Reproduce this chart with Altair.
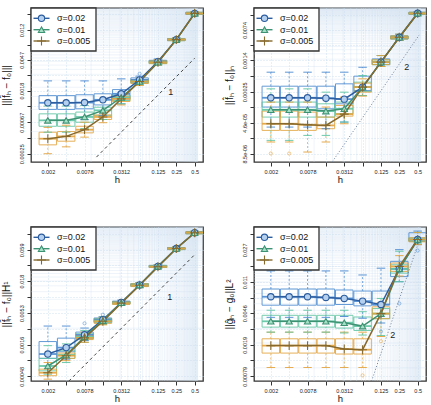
import altair as alt
import pandas as pd

# mesh sizes h = 2^-9 ... 2^-1
H = [0.001953125, 0.00390625, 0.0078125, 0.015625, 0.03125, 0.0625, 0.125, 0.25, 0.5]
SIGMAS = ["σ=0.02", "σ=0.01", "σ=0.005"]

BOX_COL = {"σ=0.02": "#4a8ad0", "σ=0.01": "#5fc4a2", "σ=0.005": "#e3a23c"}
LINE_COL = {"σ=0.02": "#2c5d9f", "σ=0.01": "#3e9274", "σ=0.005": "#86692d"}
FILL_COL = {"σ=0.02": "#b4d0ee", "σ=0.01": "#a6e0c6", "σ=0.005": "#86692d"}
SHAPE = {"σ=0.02": "circle", "σ=0.01": "triangle-up", "σ=0.005": "M-1,0L1,0M0,-1L0,1"}
PSIZE = {"σ=0.02": 40, "σ=0.01": 40, "σ=0.005": 80}

# ---- panel 1: |||f_h - f0|||
P1_MED = {"σ=0.02": [0.00123, 0.00123, 0.00124, 0.00135, 0.00163, 0.00252, 0.00446, 0.00887, 0.02018],
          "σ=0.01": [0.00071, 0.00071, 0.00079, 0.00097, 0.00145, 0.00239, 0.00437, 0.00887, 0.02018],
          "σ=0.005": [0.00040, 0.00043, 0.00053, 0.00079, 0.00139, 0.00239, 0.00437, 0.00887, 0.02018]}
P1_Q3 = {"σ=0.02": [0.00154, 0.00154, 0.00158, 0.00163, 0.00186, 0.00268, 0.00465, 0.00915, 0.02083],
         "σ=0.01": [0.00087, 0.00087, 0.00092, 0.00107, 0.00156, 0.00252, 0.00456, 0.00915, 0.02083],
         "σ=0.005": [0.00049, 0.00050, 0.00059, 0.00084, 0.00150, 0.00252, 0.00456, 0.00915, 0.02083]}
P1_Q1 = {"σ=0.02": [0.00100, 0.00100, 0.00102, 0.00115, 0.00139, 0.00234, 0.00424, 0.00860, 0.01957],
         "σ=0.01": [0.00059, 0.00059, 0.00067, 0.00083, 0.00132, 0.00227, 0.00419, 0.00860, 0.01957],
         "σ=0.005": [0.00033, 0.00037, 0.00048, 0.00073, 0.00128, 0.00225, 0.00419, 0.00860, 0.01957]}
P1_HI = {"σ=0.02": [0.00244, 0.00244, 0.00244, 0.00244, 0.00260, 0.00283, 0.00485, 0.00935, 0.02125],
         "σ=0.01": [0.00111, 0.00111, 0.00113, 0.00132, 0.00171, 0.00265, 0.00475, 0.00935, 0.02125],
         "σ=0.005": [0.00057, 0.00061, 0.00067, 0.00092, 0.00163, 0.00265, 0.00475, 0.00935, 0.02125]}
P1_LO = {"σ=0.02": [0.00071, 0.00071, 0.00073, 0.00083, 0.00119, 0.00229, 0.00411, 0.00842, 0.01917],
         "σ=0.01": [0.00049, 0.00049, 0.00055, 0.00073, 0.00119, 0.00216, 0.00402, 0.00842, 0.01917],
         "σ=0.005": [0.00025, 0.00031, 0.00042, 0.00066, 0.00115, 0.00211, 0.00402, 0.00842, 0.01917]}
P1_OUT = [("σ=0.02", 0.0625, 0.00304)]

# ---- panel 2: ||f_h - f0||_n
P2_MED = {"σ=0.02": [0.000181, 0.000181, 0.000181, 0.000177, 0.000168, 0.000324, 0.00127, 0.00496, 0.01837],
          "σ=0.01": [0.0000939, 0.0000939, 0.0000939, 0.0000873, 0.0000991, 0.000324, 0.00127, 0.00496, 0.01837],
          "σ=0.005": [0.0000437, 0.0000437, 0.0000414, 0.0000399, 0.0000741, 0.000324, 0.00127, 0.00496, 0.01837]}
P2_Q3 = {"σ=0.02": [0.000341, 0.000341, 0.000341, 0.000341, 0.000388, 0.000590, 0.00152, 0.00533, 0.0194],
         "σ=0.01": [0.000143, 0.000143, 0.000143, 0.000130, 0.000143, 0.000425, 0.00144, 0.00533, 0.0194],
         "σ=0.005": [0.0000873, 0.0000873, 0.0000826, 0.0000629, 0.000119, 0.000402, 0.00144, 0.00533, 0.0194]}
P2_Q1 = {"σ=0.02": [0.000109, 0.000109, 0.000109, 0.0000991, 0.000130, 0.000270, 0.00111, 0.00452, 0.0174],
         "σ=0.01": [0.0000629, 0.0000629, 0.0000629, 0.0000629, 0.0000754, 0.000255, 0.00111, 0.00452, 0.0174],
         "σ=0.005": [0.0000304, 0.0000304, 0.0000304, 0.0000333, 0.0000664, 0.000246, 0.00111, 0.00452, 0.0174]}
P2_HI = {"σ=0.02": [0.000734, 0.000734, 0.000734, 0.000734, 0.000734, 0.00096, 0.00182, 0.00584, 0.0201],
         "σ=0.01": [0.000295, 0.000295, 0.000295, 0.000246, 0.000246, 0.000611, 0.00182, 0.00584, 0.0201],
         "σ=0.005": [0.000143, 0.000143, 0.000143, 0.000109, 0.000187, 0.000510, 0.00182, 0.00584, 0.0201]}
P2_LO = {"σ=0.02": [0.0000364, 0.0000364, 0.0000364, 0.0000333, 0.0000479, 0.000205, 0.00100, 0.00421, 0.01677],
         "σ=0.01": [0.0000176, 0.0000176, 0.0000231, 0.0000231, 0.0000479, 0.000205, 0.00100, 0.00421, 0.01677],
         "σ=0.005": [0.0000161, 0.0000161, 0.0000093, 0.0000161, 0.0000437, 0.000198, 0.00100, 0.00421, 0.01677]}
P2_OUT = [("σ=0.005", 0.001953125, 0.0000086), ("σ=0.005", 0.00390625, 0.0000086)]

# ---- panel 3: ||f_h - f0||_H1
P3_MED = {"σ=0.02": [0.00112, 0.00143, 0.00233, 0.00414, 0.00797, 0.01554, 0.0315, 0.0621, 0.1135],
          "σ=0.01": [0.00071, 0.00108, 0.00215, 0.00399, 0.00787, 0.01554, 0.0315, 0.0621, 0.1135],
          "σ=0.005": [0.00055, 0.00105, 0.00207, 0.00389, 0.00777, 0.01533, 0.0311, 0.0621, 0.1135]}
P3_Q3 = {"σ=0.02": [0.00180, 0.00205, 0.00258, 0.00442, 0.00839, 0.01637, 0.0327, 0.0645, 0.1179],
         "σ=0.01": [0.00095, 0.00127, 0.00242, 0.00431, 0.0083, 0.0163, 0.0327, 0.0645, 0.1179],
         "σ=0.005": [0.00063, 0.00116, 0.00227, 0.00420, 0.0082, 0.0162, 0.0325, 0.0645, 0.1179]}
P3_Q1 = {"σ=0.02": [0.00095, 0.00122, 0.00205, 0.00379, 0.00757, 0.01475, 0.0303, 0.0598, 0.1092],
         "σ=0.01": [0.00059, 0.00095, 0.00199, 0.00369, 0.0075, 0.0148, 0.0303, 0.0598, 0.1092],
         "σ=0.005": [0.00049, 0.00095, 0.00194, 0.00360, 0.0074, 0.0146, 0.0302, 0.0598, 0.1092]}
P3_HI = {"σ=0.02": [0.00325, 0.00325, 0.00301, 0.00465, 0.0087, 0.0170, 0.0335, 0.066, 0.120],
         "σ=0.01": [0.00154, 0.00165, 0.00275, 0.0046, 0.0086, 0.0169, 0.0335, 0.066, 0.120],
         "σ=0.005": [0.00081, 0.00136, 0.00258, 0.0045, 0.0086, 0.0168, 0.0334, 0.066, 0.120]}
P3_LO = {"σ=0.02": [0.00071, 0.00092, 0.00187, 0.00355, 0.0073, 0.0142, 0.0296, 0.058, 0.107],
         "σ=0.01": [0.00052, 0.00081, 0.00175, 0.00345, 0.0072, 0.0141, 0.0296, 0.058, 0.107],
         "σ=0.005": [0.00043, 0.00087, 0.00175, 0.00340, 0.0072, 0.0140, 0.0295, 0.058, 0.107]}
P3_OUT = [("σ=0.02", 0.0078125, 0.00360), ("σ=0.02", 0.015625, 0.00500)]

# ---- panel 4: ||g_h - g0||_L2
P4_MED = {"σ=0.02": [0.00729, 0.00729, 0.00729, 0.00715, 0.00695, 0.00645, 0.00587, 0.0159, 0.0361],
          "σ=0.01": [0.00367, 0.00367, 0.00367, 0.00367, 0.00353, 0.00321, 0.00455, 0.0159, 0.0361],
          "σ=0.005": [0.00186, 0.00186, 0.00186, 0.00186, 0.00169, 0.00166, 0.00455, 0.0170, 0.0361]}
P4_Q3 = {"σ=0.02": [0.00905, 0.00905, 0.00905, 0.00905, 0.00880, 0.00855, 0.00855, 0.0196, 0.0436],
         "σ=0.01": [0.00434, 0.00434, 0.00434, 0.00434, 0.00434, 0.00414, 0.00524, 0.0178, 0.0379],
         "σ=0.005": [0.00225, 0.00225, 0.00225, 0.00225, 0.00225, 0.00225, 0.00550, 0.0187, 0.0379]}
P4_Q1 = {"σ=0.02": [0.00576, 0.00576, 0.00576, 0.00576, 0.00587, 0.00565, 0.00580, 0.0128, 0.0344],
         "σ=0.01": [0.00312, 0.00312, 0.00312, 0.00312, 0.00304, 0.00284, 0.00395, 0.0141, 0.0344],
         "σ=0.005": [0.00151, 0.00151, 0.00151, 0.00151, 0.00147, 0.00147, 0.00395, 0.0148, 0.0338]}
P4_HI = {"σ=0.02": [0.0150, 0.0150, 0.0150, 0.0150, 0.0150, 0.0134, 0.0162, 0.0272, 0.0457],
         "σ=0.01": [0.00500, 0.00500, 0.00500, 0.00500, 0.00500, 0.00480, 0.00695, 0.0260, 0.0440],
         "σ=0.005": [0.00271, 0.00271, 0.00271, 0.00271, 0.00271, 0.00271, 0.00620, 0.0230, 0.0440]}
P4_LO = {"σ=0.02": [0.00410, 0.00410, 0.00410, 0.00410, 0.00420, 0.00400, 0.00350, 0.0111, 0.0313],
         "σ=0.01": [0.00271, 0.00271, 0.00271, 0.00271, 0.00265, 0.00250, 0.00247, 0.0111, 0.0320],
         "σ=0.005": [0.00101, 0.00101, 0.00101, 0.00101, 0.00101, 0.00101, 0.00240, 0.0130, 0.0313]}
P4_OUT = [("σ=0.02", 0.125, 0.00276), ("σ=0.02", 0.25, 0.00604), ("σ=0.02", 0.5, 0.0265),
          ("σ=0.005", 0.0625, 0.00081), ("σ=0.005", 0.125, 0.00210)]

# tick labels
X_LABELS = [(0.001953125, "0.002"), (0.0078125, "0.0078"), (0.03125, "0.0312"),
            (0.125, "0.125"), (0.25, "0.25"), (0.5, "0.5")]
P1_YLAB = [(0.00025, "0.00025"), (0.00067, "0.00067"), (0.0018, "0.0018"), (0.0047, "0.0047"), (0.012, "0.012")]
P1_YMIN = [0.00041, 0.0011, 0.0029, 0.0075, 0.0195]
P2_YLAB = [(8.5e-06, "8.5e-06"), (4.6e-05, "4.6e-05"), (0.00025, "0.00025"), (0.0014, "0.0014"), (0.0074, "0.0074")]
P2_YMIN = [1.98e-05, 1.07e-04, 5.9e-04, 3.2e-03, 0.0172]
P3_YLAB = [(0.00048, "0.00048"), (0.0016, "0.0016"), (0.0053, "0.0053"), (0.018, "0.018"), (0.059, "0.059")]
P3_YMIN = [0.00088, 0.0029, 0.0097, 0.033, 0.108]
P4_YLAB = [(0.00079, "0.00079"), (0.0019, "0.0019"), (0.0046, "0.0046"), (0.011, "0.011"), (0.027, "0.027")]
P4_YMIN = [0.00123, 0.00295, 0.0071, 0.0171, 0.042]

# reference slopes: (h, value) end points and label positions
P1_REF = [(0.01226, 0.000225), (0.5, 0.00496)]
P1_REF_LABEL = (0.203, 0.00171, "1")
P2_REF = [(0.0200, 0.0000055), (0.53, 0.00563)]
P2_REF_LABEL = (0.33, 0.000997, "2")
P3_REF = [(0.00432, 0.00040), (0.5, 0.0492)]
P3_REF_LABEL = (0.196, 0.00993, "1")
P4_REF = [(0.0877, 0.00069), (0.53, 0.0351)]
P4_REF_LABEL = (0.196, 0.00252, "2")

XDOM = [0.00125, 0.567]
FONT = "Liberation Sans"
GRID = "#cfe0f2"
W, HGT = 172, 154


def label_expr(pairs):
    expr = "''"
    for v, t in reversed(pairs):
        expr = f"abs(datum.value - {v}) < {v * 1e-3} ? '{t}' : ({expr})"
    return expr


def frame(med, q1, q3, lo, hi):
    rows = []
    for s in SIGMAS:
        for i, h in enumerate(H):
            rows.append(dict(series=s, h=h, med=med[s][i], q1=q1[s][i], q3=q3[s][i],
                             lo=lo[s][i], hi=hi[s][i], box=BOX_COL[s], line=LINE_COL[s],
                             fill=FILL_COL[s], shape=SHAPE[s], psize=PSIZE[s]))
    return pd.DataFrame(rows)


def legend_layers():
    layers = [alt.Chart(pd.DataFrame({"k": [0]})).mark_rect(
        fill="white", stroke="#333333", strokeWidth=1.3).encode(
        x=alt.value(0), x2=alt.value(65), y=alt.value(0), y2=alt.value(43))]
    for s, yy in zip(SIGMAS, [10.3, 21.7, 33.0]):
        d = pd.DataFrame({"label": [s]})
        layers.append(alt.Chart(d).mark_rule(color=LINE_COL[s], strokeWidth=1.4).encode(
            x=alt.value(2.5), x2=alt.value(18.5), y=alt.value(yy)))
        layers.append(alt.Chart(d).mark_point(
            shape=SHAPE[s], size=PSIZE[s], filled=True, fill=FILL_COL[s], stroke=LINE_COL[s],
            strokeWidth=1.1, opacity=1).encode(x=alt.value(10.5), y=alt.value(yy)))
        layers.append(alt.Chart(d).mark_text(
            align="left", baseline="middle", fontSize=9, color="#111111", font=FONT).encode(
            x=alt.value(26), y=alt.value(yy), text="label:N"))
    return layers


def panel(df, outs, ydom, ylab, ymin, ytitle, ystep, ref, ref_label, dash, ref_color):
    xs = alt.Scale(type="log", domain=XDOM, nice=False)
    ys = alt.Scale(type="log", domain=ydom, nice=False)
    xaxis = alt.Axis(values=H, labelExpr=label_expr(X_LABELS), title="h", labelFontSize=5.5,
                     titleFontSize=9.5, titleFontWeight="normal", tickSize=4, labelPadding=3,
                     titlePadding=0, grid=True, gridColor="#c4d8ec", gridDash=[1, 2], gridWidth=0.8,
                     domain=False, tickColor="#333333", labelColor="#222222", labelAngle=0,
                     labelFlush=False, labelOverlap=False, titleColor="#111111")
    yaxis = alt.Axis(values=sorted([v for v, _ in ylab] + ymin), labelExpr=label_expr(ylab),
                     title=ytitle, labelAngle=270, labelAlign="center", labelBaseline="bottom",
                     labelFontSize=5.5, tickSize=4, labelPadding=3, titlePadding=8, titleFontSize=10,
                     titleFontWeight="normal", grid=True, gridColor="#c4d8ec", gridDash=[1, 2],
                     gridWidth=0.8, domain=False, tickColor="#333333", labelColor="#222222",
                     labelFlush=False, labelOverlap=False, titleColor="#111111")

    def X(field="h:Q"):
        return alt.X(field, scale=xs, axis=xaxis)

    def Y(field):
        return alt.Y(field, scale=ys, axis=yaxis)

    # light background grid at linear steps
    xg = pd.DataFrame({"g": [round(0.01 * k, 2) for k in range(1, 57)]})
    top = ydom[1]
    yg = pd.DataFrame({"g": [ystep * k for k in range(1, int(top / ystep) + 1)]})
    hgrid = alt.Chart(yg).mark_rule(color=GRID, strokeWidth=0.5, opacity=0.7).encode(y=Y("g:Q"))
    vgrid = alt.Chart(xg).mark_rule(color=GRID, strokeWidth=0.5, opacity=0.7).encode(x=X("g:Q"))

    refdf = pd.DataFrame({"h": [p[0] for p in ref], "v": [p[1] for p in ref]})
    refline = alt.Chart(refdf).mark_line(clip=True, strokeDash=dash, color=ref_color,
                                         strokeWidth=1).encode(x=X(), y=Y("v:Q"))
    reftxt = alt.Chart(pd.DataFrame({"h": [ref_label[0]], "v": [ref_label[1]], "t": [ref_label[2]]})
                       ).mark_text(fontSize=9, color="#222222", font=FONT).encode(
        x=X(), y=Y("v:Q"), text="t:N")

    base = alt.Chart(df)
    C = alt.Color("box:N", scale=None)
    whi = base.mark_rule(strokeDash=[2, 2], strokeWidth=0.8, opacity=0.9).encode(
        x=X(), y=Y("q3:Q"), y2="hi:Q", color=C)
    wlo = base.mark_rule(strokeDash=[2, 2], strokeWidth=0.8, opacity=0.9).encode(
        x=X(), y=Y("lo:Q"), y2="q1:Q", color=C)
    chi = base.mark_tick(orient="horizontal", size=8.5, thickness=1, opacity=0.9, clip=True).encode(
        x=X(), y=Y("hi:Q"), color=C)
    clo = base.mark_tick(orient="horizontal", size=8.5, thickness=1, opacity=0.9, clip=True).encode(
        x=X(), y=Y("lo:Q"), color=C)
    box = base.mark_bar(filled=False, width=17.5, strokeWidth=1, opacity=0.85, clip=True).encode(
        x=X(), y=Y("q1:Q"), y2="q3:Q", color=C)
    med = base.mark_tick(orient="horizontal", size=17.5, thickness=1.8, opacity=0.9, clip=True).encode(
        x=X(), y=Y("med:Q"), color=C)
    odf = pd.DataFrame({"series": [o[0] for o in outs], "h": [o[1] for o in outs],
                        "v": [o[2] for o in outs], "box": [BOX_COL[o[0]] for o in outs]})
    out = alt.Chart(odf).mark_point(shape="circle", size=10, strokeWidth=0.8, filled=False).encode(
        x=X(), y=Y("v:Q"), color=C)
    line = base.mark_line(strokeWidth=1.5).encode(
        x=X(), y=Y("med:Q"), color=alt.Color("line:N", scale=None),
        detail="series:N", order="h:Q")
    pts = base.mark_point(filled=True, strokeWidth=1.1, opacity=1).encode(
        x=X(), y=Y("med:Q"), fill=alt.Fill("fill:N", scale=None),
        stroke=alt.Stroke("line:N", scale=None), shape=alt.Shape("shape:N", scale=None),
        size=alt.Size("psize:Q", scale=None))

    layers = [hgrid, vgrid, box, whi, wlo, chi, clo, med, out, refline, reftxt, line, pts] + legend_layers()
    return alt.layer(*layers).properties(width=W, height=HGT)


p1 = panel(frame(P1_MED, P1_Q1, P1_Q3, P1_LO, P1_HI), P1_OUT, [0.000193, 0.02385], P1_YLAB, P1_YMIN,
           "|||f\u0302\u2095 \u2212 f\u2080|||", 0.0005, P1_REF, P1_REF_LABEL, [3, 3], "#444444")
p2 = panel(frame(P2_MED, P2_Q1, P2_Q3, P2_LO, P2_HI), P2_OUT, [5.39e-06, 0.02457], P2_YLAB, P2_YMIN,
           "||f\u0302\u2095 \u2212 f\u2080||\u2099", 0.0005, P2_REF, P2_REF_LABEL, [1, 2], "#6b7f99")
p3 = panel(frame(P3_MED, P3_Q1, P3_Q3, P3_LO, P3_HI), P3_OUT, [0.000401, 0.1411], P3_YLAB, P3_YMIN,
           "||f\u0302\u2095 \u2212 f\u2080||H\u00b9", 0.003, P3_REF, P3_REF_LABEL, [3, 3], "#444444")
p4 = panel(frame(P4_MED, P4_Q1, P4_Q3, P4_LO, P4_HI), P4_OUT, [0.000692, 0.0512], P4_YLAB, P4_YMIN,
           "||\u011d\u2095 \u2212 g\u2080||L\u00b2", 0.001, P4_REF, P4_REF_LABEL, [1, 2], "#6b7f99")

chart = alt.vconcat(
    alt.hconcat(p1, p2, spacing=19),
    alt.hconcat(p3, p4, spacing=19),
    spacing=40,
).properties(
    padding={"left": 0, "top": 5, "right": 0, "bottom": 0}, background="white"
).configure(font=FONT).configure_view(stroke="#333333", strokeWidth=1.3)

chart.save("out.html", embed_options={"renderer": "svg", "actions": False})
